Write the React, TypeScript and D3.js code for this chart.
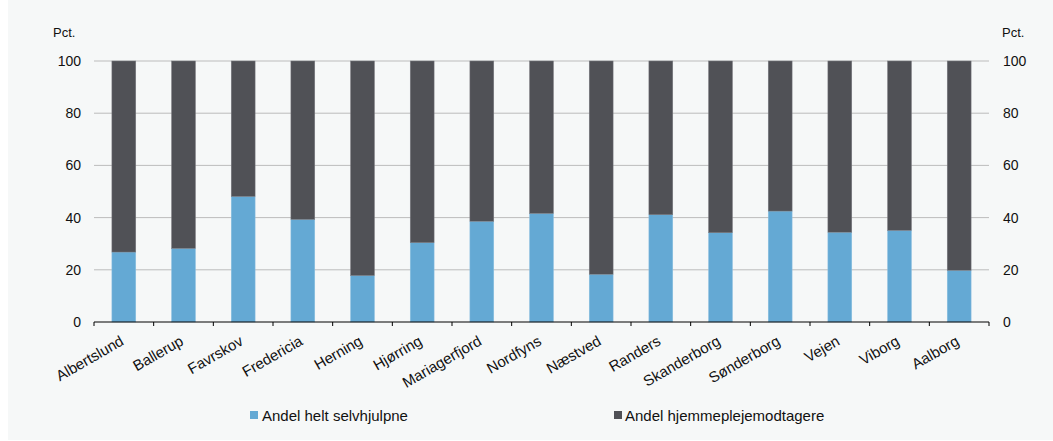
import React from "react";
import * as d3 from "d3";

const categories = ["Albertslund","Ballerup","Favrskov","Fredericia","Herning","Hjørring","Mariagerfjord","Nordfyns","Næstved","Randers","Skanderborg","Sønderborg","Vejen","Viborg","Aalborg"];
const selvhjulpne = [26.8,28.2,48.1,39.3,17.8,30.4,38.6,41.6,18.3,41.1,34.2,42.5,34.4,35.1,19.8];
const yTicks = [0,20,40,60,80,100];
const seriesNames = ["Andel helt selvhjulpne","Andel hjemmeplejemodtagere"];
const colors = ["#64a9d4","#505156"];

export default function App() {
  const W = 1053, H = 441;
  const left = 94, right = 989, top = 61, bottom = 322;
  const x = d3.scaleBand().domain(categories).range([left, right]).paddingInner(0.6).paddingOuter(0.3);
  const xb = d3.scaleBand().domain(categories).range([left, right]);
  const y = d3.scaleLinear().domain([0, 100]).range([bottom, top]);
  const font = "Liberation Sans, Arial, sans-serif";
  return (
    <svg width={W} height={H} style={{position:"absolute", left:0, top:0}} fontFamily={font}>
      <rect x={8} y={0} width={W - 8} height={440} fill="#f6f8f8" />
      {yTicks.filter(t => t > 0).map(t => (
        <line key={t} x1={left} x2={right} y1={y(t)} y2={y(t)} stroke="#bcbcbc" strokeWidth={1} />
      ))}
      {categories.map((c, i) => (
        <g key={c}>
          <rect x={x(c)} width={x.bandwidth()} y={y(selvhjulpne[i])} height={y(0) - y(selvhjulpne[i])} fill={colors[0]} stroke="#8cc0e0" strokeWidth={0.5} />
          <rect x={x(c)} width={x.bandwidth()} y={y(100)} height={y(selvhjulpne[i]) - y(100)} fill={colors[1]} stroke="#7a7b80" strokeWidth={0.5} />
        </g>
      ))}
      <line x1={left} x2={right} y1={bottom} y2={bottom} stroke="#000" strokeWidth={1.2} />
      {[...categories.map(c => xb(c) as number), right].map((t, i) => (
        <line key={i} x1={t} x2={t} y1={bottom} y2={bottom + 4} stroke="#000" strokeWidth={1} />
      ))}
      {yTicks.map(t => (
        <g key={t}>
          <text x={81} y={y(t) + 5} textAnchor="end" fontSize={14} fill="#111">{t}</text>
          <text x={1003} y={y(t) + 5} textAnchor="start" fontSize={14} fill="#111">{t}</text>
        </g>
      ))}
      <text x={53} y={37} fontSize={13} fill="#111">Pct.</text>
      <text x={1002} y={37} fontSize={13} fill="#111">Pct.</text>
      {categories.map(c => {
        const cx = (x(c) as number) + x.bandwidth() / 2 + 1;
        return (
          <text key={c} transform={`translate(${cx},${bottom + 22}) rotate(-30)`} textAnchor="end" fontSize={15} fill="#111">{c}</text>
        );
      })}
      <rect x={250} y={411} width={8} height={8} fill={colors[0]} />
      <text x={262} y={421} fontSize={15} fill="#111">{seriesNames[0]}</text>
      <rect x={614} y={411} width={8} height={8} fill={colors[1]} />
      <text x={625} y={421} fontSize={15} fill="#111">{seriesNames[1]}</text>
    </svg>
  );
}
